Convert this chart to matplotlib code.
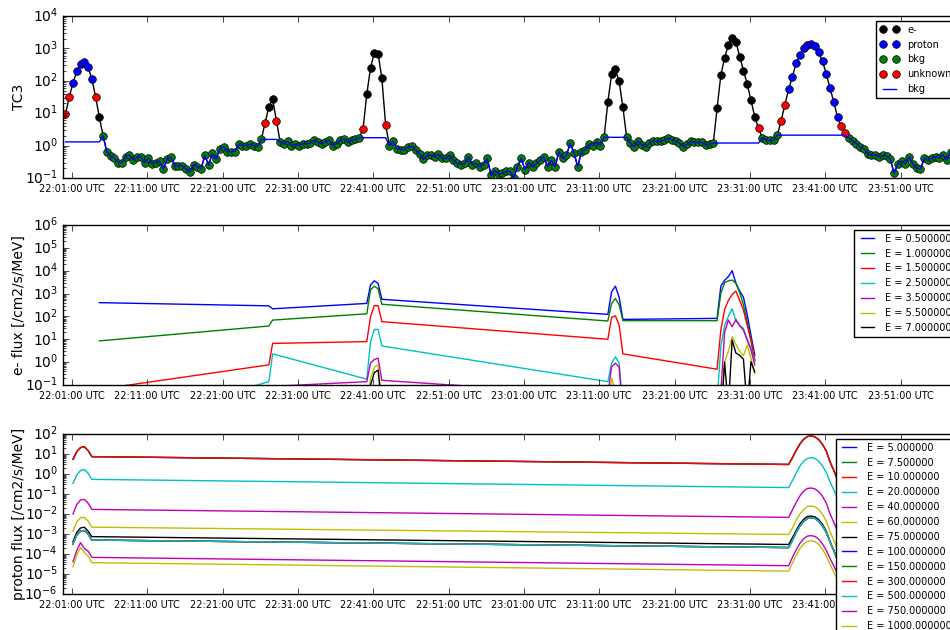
import numpy as np
import pandas as pd
import matplotlib
matplotlib.use('Agg')
import matplotlib.pyplot as plt
import matplotlib.dates as mdates

plt.style.use('classic')

# TC3 rate, one sample every 30 s
day = '2015-06-01 '
t_first = day + '22:00:08'
cadence = '30s'

tc3 = ([9.5, 31, 87, 195, 325, 370, 263, 115, 32, 7.4, 2.0]
       + [0.62, 0.48, 0.41, 0.30, 0.30, 0.46, 0.51, 0.36, 0.44, 0.46, 0.30, 0.41, 0.27, 0.30,
          0.33, 0.19, 0.39, 0.43, 0.24, 0.24, 0.24, 0.19, 0.15, 0.26, 0.22, 0.19, 0.50, 0.25,
          0.57, 0.38, 0.80, 0.93, 0.65, 0.65, 0.65, 1.1, 1.0, 1.0, 1.1, 1.0, 0.93, 1.55]
       + [4.9, 16, 27, 5.8]
       + [1.3, 1.1, 1.35, 0.98, 1.1, 1.0, 1.15, 1.1, 1.2, 1.45, 1.3, 1.15, 1.3, 1.5, 1.0,
          1.15, 1.5, 1.6, 1.25, 1.5, 1.55, 1.75]
       + [3.2, 39, 250, 740, 680, 120, 4.4]
       + [1.0, 1.35, 0.8, 0.75, 0.75, 0.9, 0.95, 0.73, 0.55, 0.38, 0.5, 0.5, 0.45, 0.55, 0.4,
          0.4, 0.5, 0.35, 0.28, 0.26, 0.28, 0.45, 0.26, 0.28, 0.22, 0.26, 0.4, 0.12, 0.17,
          0.13, 0.14, 0.16, 0.16, 0.1, 0.22, 0.4, 0.18, 0.3, 0.22, 0.28, 0.35, 0.45, 0.22,
          0.35, 0.22, 0.65, 0.4, 0.5, 1.17, 0.6, 0.22, 0.65, 0.75, 1.1, 1.0, 1.3, 1.0, 1.8]
       + [22, 160, 230, 97, 15]
       + [1.8, 1.17, 0.93, 1.4, 1.05, 0.93, 1.17, 1.4, 1.35, 1.35, 1.5, 1.7, 1.5, 1.4, 1.2,
          0.93, 1.1, 1.35, 1.25, 1.25, 1.25, 1.05, 1.1, 1.2]
       + [14, 150, 510, 1300, 2100, 1600, 560, 205, 80, 25, 7.8, 3.4]
       + [1.75, 1.5, 1.45, 1.45, 2.1]
       + [5.9, 18, 55, 134, 350, 620, 1000, 1300, 1340, 1150, 750, 400, 160, 60, 22, 7.4, 4.0, 2.5]
       + [1.75, 1.4, 1.15, 0.9, 0.8, 0.55, 0.5, 0.52, 0.45, 0.5, 0.48, 0.38, 0.14, 0.27, 0.33,
          0.27, 0.45, 0.27, 0.2, 0.19, 0.4, 0.35, 0.42, 0.45, 0.42, 0.52, 0.35, 0.65, 0.7, 0.6])

# class of each sample: e = e-, p = proton, b = bkg, u = unknown
cls = ('uuppppppueb' + 'b' * 42 + 'ueeu' + 'b' * 22 + 'ueeeeeu' + 'b' * 58 + 'eeeee'
       + 'b' * 24 + 'e' * 11 + 'u' + 'b' * 5 + 'uu' + 'p' * 14 + 'uu' + 'b' * 30)
bkg_start = 1.3

# e- flux at the e- samples
e_energies = [0.5, 1.0, 1.5, 2.5, 3.5, 5.5, 7.0]
e_flux = [
    [400, 290, 215, 370, 2400, 3600, 2800, 560, 123, 1200, 2100, 690, 74,
     82, 2100, 3800, 5500, 10000, 2800, 1300, 690, 120, 15, 2.0],
    [8.5, 38, 69, 130, 1450, 2100, 1600, 340, 63, 370, 610, 320, 65,
     65, 1020, 3000, 3600, 3900, 2800, 1100, 320, 60, 9.3, 1.2],
    [0.065, 0.76, 6.6, 7.9, 98, 295, 295, 59, 10, 92, 105, 42, 2.3,
     0.49, 26, 200, 500, 900, 1300, 500, 190, 40, 9, 1.3],
    [0.001, 0.14, 2.3, 0.18, 8, 27, 27, 5.1, 0.14, 0.9, 1.7, 0.9, 0.01,
     0.02, 4.8, 40, 100, 215, 63, 40, 30, 10, 4, 1.0],
    [0.0003, 0.04, 0.087, 0.14, 0.9, 1.3, 1.5, 0.16, 0.035, 0.63, 0.9, 0.6, 0.005,
     0.003, 0.05, 20, 69, 35, 74, 40, 25, 9, 3.5, 0.76],
    [1e-5, 0.001, 0.005, 0.01, 0.2, 0.6, 0.76, 0.02, 0.005, 0.2, 0.05, 0.005, 0.001,
     0.001, 0.01, 1.0, 3, 13, 6, 3, 1.9, 5.6, 1.5, 0.32],
    [1e-5, 5e-4, 0.002, 0.005, 0.1, 0.35, 0.45, 0.01, 0.001, 0.05, 0.02, 0.002, 0.001,
     0.001, 0.003, 1.0, 0.01, 9.3, 2.5, 2.0, 1.35, 0.01, 1.05, 0.37],
]

# proton flux at the proton samples
p_energies = [5.0, 7.5, 10.0, 20.0, 40.0, 60.0, 75.0, 100.0, 150.0, 300.0, 500.0, 750.0, 1000.0]
p_low = [5.4, 13, 21, 23, 15, 7.4, 3.0, 6.5, 15, 32, 55, 75, 80, 72, 52, 30, 14, 4.0, 1.5, 0.5]
p_mid = [3.2e-4, 9e-4, 0.0014, 0.0015, 0.001, 5e-4, 2.1e-4, 4.8e-4, 0.0012, 0.0025, 0.0043,
         0.006, 0.0066, 0.006, 0.0043, 0.0025, 0.0012, 4e-4, 1.5e-4, 5e-5]
p_flux = [
    p_low, p_low, p_low,
    [0.34, 0.9, 1.5, 1.7, 1.1, 0.54, 0.21, 0.47, 1.1, 2.5, 4.4, 6.0, 6.6, 6.0, 4.4, 2.5, 1.2, 0.4, 0.16, 0.06],
    [0.01, 0.03, 0.05, 0.054, 0.035, 0.017, 0.0068, 0.016, 0.038, 0.081, 0.14, 0.19, 0.2, 0.18,
     0.13, 0.076, 0.035, 0.01, 0.0038, 0.0013],
    [0.0014, 0.004, 0.0065, 0.0068, 0.0045, 0.0022, 9.5e-4, 0.002, 0.0048, 0.010, 0.017, 0.024,
     0.025, 0.023, 0.017, 0.0095, 0.0045, 0.0013, 4.8e-4, 1.6e-4],
    [4.2e-4, 0.0012, 0.002, 0.0022, 0.0014, 7.4e-4, 3.0e-4, 6.5e-4, 0.0015, 0.0032, 0.0055, 0.0076,
     0.0079, 0.0072, 0.0052, 0.003, 0.0014, 4e-4, 1.5e-4, 5e-5],
    p_mid, p_mid, p_mid, p_mid,
    [4.1e-5, 1.5e-4, 3.7e-4, 1.9e-4, 1.4e-4, 6.8e-5, 2.6e-5, 6.8e-5, 1.6e-4, 3.4e-4, 5.8e-4, 7.9e-4,
     8.3e-4, 7.6e-4, 5.5e-4, 3.2e-4, 1.5e-4, 6e-5, 2.5e-5, 1e-5],
    [2.3e-5, 9e-5, 2.1e-4, 1.2e-4, 8e-5, 3.7e-5, 1.4e-5, 3.6e-5, 8.5e-5, 1.9e-4, 3.2e-4, 4.4e-4,
     4.6e-4, 4.2e-4, 3e-4, 1.7e-4, 8e-5, 3e-5, 1.2e-5, 5e-6],
]

xlim = (day + '21:59:52', day + '23:58:55')
tick_times = ['22:01', '22:11', '22:21', '22:31', '22:41', '22:51',
              '23:01', '23:11', '23:21', '23:31', '23:41', '23:51']

tc3 = np.array(tc3)
cls = np.array(list(cls))
t = pd.date_range(t_first, periods=len(tc3), freq=cadence)
bkg = pd.Series(np.where(cls == 'b', tc3, np.nan)).ffill().fillna(bkg_start).values
te = t[cls == 'e']
tp = t[cls == 'p']

fig = plt.figure(figsize=(9.5, 6.3), dpi=100)
left, width = 0.0668, 0.944
ax1 = fig.add_axes([left, 0.7175, width, 0.2571])
ax2 = fig.add_axes([left, 0.3889, width, 0.254], sharex=ax1)
ax3 = fig.add_axes([left, 0.0571, width, 0.254], sharex=ax1)

# top: TC3 with classification
ax1.plot(t, tc3, 'k-')
for key, color, label in [('e', 'k', 'e-'), ('p', 'b', 'proton'), ('b', 'g', 'bkg'), ('u', 'r', 'unknown')]:
    m = cls == key
    ax1.plot(t[m], tc3[m], 'o', color=color, markersize=5.5,
             markeredgecolor='k', markeredgewidth=0.5, label=label)
ax1.plot(t, bkg, 'b-', label='bkg')
ax1.set_yscale('log')
ax1.set_ylim(0.1, 1e4)
ax1.set_ylabel('TC3', fontsize=10, labelpad=-1)
ax1.legend(loc='upper right', fontsize=7)

# middle: e- flux
for E, vals in zip(e_energies, e_flux):
    ax2.plot(te, vals, label='E = %f' % E)
ax2.set_yscale('log')
ax2.set_ylim(0.1, 1e6)
ax2.set_ylabel('e- flux [/cm2/s/MeV]', fontsize=10, labelpad=-1)
ax2.legend(loc='upper right', fontsize=7)

# bottom: proton flux
for E, vals in zip(p_energies, p_flux):
    ax3.plot(tp, vals, label='E = %f' % E)
ax3.set_yscale('log')
ax3.set_ylim(1e-6, 1e2)
ax3.set_ylabel('proton flux [/cm2/s/MeV]', fontsize=10, labelpad=-1)
ax3.legend(loc='upper right', fontsize=7)

for ax in [ax1, ax2, ax3]:
    ax.set_xlim(pd.Timestamp(xlim[0]), pd.Timestamp(xlim[1]))
    ax.set_xticks([pd.Timestamp(day + s) for s in tick_times])
    ax.xaxis.set_major_formatter(mdates.DateFormatter('%H:%M:%S UTC'))
    ax.tick_params(axis='x', labelsize=7)
    ax.tick_params(axis='y', labelsize=10)

fig.savefig('out.png', dpi=100, facecolor='white')
